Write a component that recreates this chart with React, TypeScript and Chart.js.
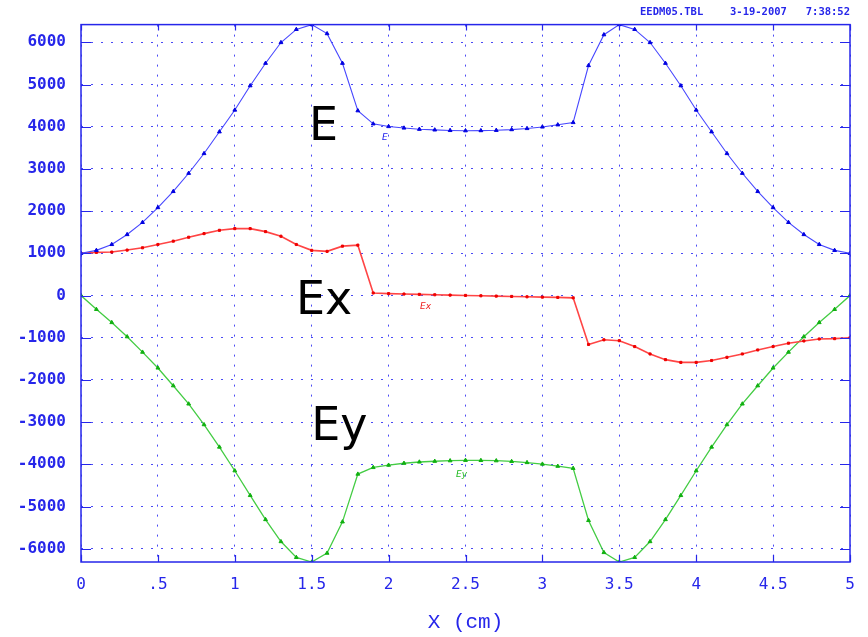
import React, { useEffect, useRef } from "react";
import { Chart, registerables } from "chart.js";

Chart.register(...registerables);

// Position along the device (cm)
const X_CM = [
  0, 0.1, 0.2, 0.3, 0.4, 0.5, 0.6, 0.7, 0.8, 0.9, 1.0,
  1.1, 1.2, 1.3, 1.4, 1.5, 1.6, 1.7, 1.8, 1.9, 2.0,
  2.1, 2.2, 2.3, 2.4, 2.5, 2.6, 2.7, 2.8, 2.9, 3.0,
  3.1, 3.2, 3.3, 3.4, 3.5, 3.6, 3.7, 3.8, 3.9, 4.0,
  4.1, 4.2, 4.3, 4.4, 4.5, 4.6, 4.7, 4.8, 4.9, 5.0,
];

// |E|
const E_VALUES = [
  1000, 1070, 1210, 1445, 1733, 2084, 2466, 2897, 3365, 3880, 4395,
  4972, 5504, 5995, 6307, 6420, 6206, 5504, 4379, 4068, 4005,
  3970, 3940, 3925, 3912, 3905, 3908, 3915, 3932, 3958, 3995,
  4045, 4100, 5450, 6180, 6420, 6307, 5995, 5504, 4972, 4395,
  3880, 3365, 2897, 2466, 2084, 1733, 1445, 1210, 1070, 1000,
];

// Ex
const EX_VALUES = [
  1000, 1022, 1030, 1077, 1131, 1209, 1288, 1381, 1467, 1545, 1585,
  1585, 1514, 1405, 1209, 1070, 1046, 1170, 1194, 60, 45,
  35, 27, 18, 10, 2, -6, -14, -22, -30, -38,
  -45, -55, -1160, -1050, -1070, -1210, -1385, -1520, -1585, -1585,
  -1540, -1465, -1385, -1290, -1210, -1130, -1077, -1030, -1022, -1000,
];

// Ey
const EY_VALUES = [
  0, -328, -640, -976, -1342, -1717, -2138, -2569, -3060, -3591, -4153,
  -4738, -5309, -5831, -6206, -6315, -6105, -5363, -4232, -4075, -4020,
  -3975, -3945, -3928, -3915, -3905, -3908, -3915, -3932, -3958, -3995,
  -4045, -4095, -5330, -6090, -6315, -6206, -5831, -5309, -4738, -4153,
  -3591, -3060, -2569, -2138, -1717, -1342, -976, -640, -328, 0,
];

const Y_MIN = -6315;
const Y_MAX = 6420;
const Y_TICKS = [-6000, -5000, -4000, -3000, -2000, -1000, 0, 1000, 2000, 3000, 4000, 5000, 6000];
const X_MIN = 0;
const X_MAX = 5;
const X_TICKS = [0, 0.5, 1, 1.5, 2, 2.5, 3, 3.5, 4, 4.5, 5];
const X_TICK_LABELS = ["0", ".5", "1", "1.5", "2", "2.5", "3", "3.5", "4", "4.5", "5"];

const HEADER = ["EEDM05.TBL", "3-19-2007", "7:38:52"];
const X_TITLE = "X (cm)";

// Big annotation labels: [text, x, y(baseline)]
const BIG_LABELS: [string, number, number][] = [
  ["E", 1.482, 3680],
  ["Ex", 1.398, -440],
  ["Ey", 1.497, -3420],
];
// Small curve labels: [text, x, y(middle), color]
const SMALL_LABELS: [string, number, number, string][] = [
  ["E", 1.957, 3750, "#2222ee"],
  ["Ex", 2.204, -270, "#ee2222"],
  ["Ey", 2.438, -4240, "#22bb22"],
];

const AXIS_COLOR = "#2626ea";
const GRID_COLOR = "#4a4af5";

export default function App() {
  const ref = useRef<HTMLCanvasElement>(null);

  useEffect(() => {
    document.body.style.margin = "0";
    const canvas = ref.current;
    if (!canvas) return;
    const pts = (ys: number[]) => X_CM.map((x, i) => ({ x, y: ys[i] }));

    const framePlugin = {
      id: "framePlugin",
      afterDraw(chart: any) {
        const { ctx, chartArea: a, scales } = chart;
        const xs = scales.x;
        const ys = scales.y;
        ctx.save();
        // frame
        ctx.strokeStyle = AXIS_COLOR;
        ctx.lineWidth = 1.5;
        ctx.strokeRect(a.left, a.top, a.right - a.left, a.bottom - a.top);
        // inner ticks
        ctx.lineWidth = 1.2;
        ctx.beginPath();
        ys.ticks.forEach((t: any) => {
          const py = Math.round(ys.getPixelForValue(t.value)) + 0.5;
          ctx.moveTo(a.left, py);
          ctx.lineTo(a.left + 10, py);
          ctx.moveTo(a.right, py);
          ctx.lineTo(a.right - 10, py);
        });
        xs.ticks.forEach((t: any) => {
          const px = Math.round(xs.getPixelForValue(t.value)) + 0.5;
          ctx.moveTo(px, a.bottom);
          ctx.lineTo(px, a.bottom - 7);
          ctx.moveTo(px, a.top);
          ctx.lineTo(px, a.top + 6);
        });
        ctx.stroke();

        // header
        ctx.fillStyle = AXIS_COLOR;
        ctx.font = "bold 10.5px 'DejaVu Sans Mono', monospace";
        ctx.textBaseline = "alphabetic";
        ctx.textAlign = "left";
        ctx.fillText(HEADER[0], 640, 15);
        ctx.fillText(HEADER[1], 730, 15);
        ctx.textAlign = "right";
        ctx.fillText(HEADER[2], a.right, 15);

        // big labels
        ctx.fillStyle = "#000000";
        ctx.font = "46px 'DejaVu Sans', sans-serif";
        ctx.textAlign = "left";
        ctx.textBaseline = "alphabetic";
        BIG_LABELS.forEach(([txt, x, y]) => {
          ctx.fillText(txt, xs.getPixelForValue(x), ys.getPixelForValue(y));
        });

        // small labels
        ctx.font = "italic 9px 'DejaVu Sans', sans-serif";
        ctx.textBaseline = "middle";
        SMALL_LABELS.forEach(([txt, x, y, c]) => {
          ctx.fillStyle = c;
          ctx.fillText(txt, xs.getPixelForValue(x), ys.getPixelForValue(y));
        });
        ctx.restore();
      },
    };

    const chart = new Chart(canvas, {
      type: "line",
      data: {
        datasets: [
          {
            label: "E",
            data: pts(E_VALUES),
            borderColor: "#4848ff",
            backgroundColor: "#0000e0",
            pointBorderColor: "#0000e0",
            borderWidth: 1.1,
            pointStyle: "triangle",
            pointRadius: 2.2,
            pointBorderWidth: 1,
            tension: 0,
          },
          {
            label: "Ex",
            data: pts(EX_VALUES),
            borderColor: "#ff4545",
            backgroundColor: "#ee0000",
            pointBorderColor: "#ee0000",
            borderWidth: 1.6,
            pointStyle: "rect",
            pointRadius: 1.5,
            pointBorderWidth: 1,
            tension: 0,
          },
          {
            label: "Ey",
            data: pts(EY_VALUES),
            borderColor: "#44cc44",
            backgroundColor: "#10b010",
            pointBorderColor: "#10b010",
            borderWidth: 1.3,
            pointStyle: "triangle",
            pointRadius: 2.2,
            pointBorderWidth: 1,
            tension: 0,
          },
        ],
      },
      options: {
        animation: false,
        responsive: false,
        maintainAspectRatio: false,
        layout: { padding: { top: 17, right: 18, left: 0, bottom: 0 } },
        plugins: {
          legend: { display: false },
          tooltip: { enabled: false },
          title: { display: false },
        },
        scales: {
          x: {
            type: "linear",
            min: X_MIN,
            max: X_MAX,
            afterFit: (s: any) => {
              s.height = 75;
            },
            afterBuildTicks: (s: any) => {
              s.ticks = X_TICKS.map((v) => ({ value: v }));
            },
            grid: {
              display: true,
              drawTicks: false,
              color: GRID_COLOR,
              lineWidth: 1,
            },
            border: { display: false, dash: [2, 8] },
            ticks: {
              padding: 13,
              color: AXIS_COLOR,
              font: { family: "'DejaVu Sans Mono', monospace", size: 16 },
              maxRotation: 0,
              autoSkip: false,
              callback: (v: any) => {
                const i = X_TICKS.indexOf(Number(v));
                return i >= 0 ? X_TICK_LABELS[i] : "";
              },
            },
            title: {
              display: true,
              text: X_TITLE,
              color: AXIS_COLOR,
              font: { family: "'Liberation Mono', monospace", size: 21 },
              padding: { top: 0, bottom: 2 },
            },
          },
          y: {
            type: "linear",
            min: Y_MIN,
            max: Y_MAX,
            afterFit: (s: any) => {
              s.width = 81;
            },
            afterBuildTicks: (s: any) => {
              s.ticks = Y_TICKS.map((v) => ({ value: v }));
            },
            grid: {
              display: true,
              drawTicks: false,
              color: GRID_COLOR,
              lineWidth: 1,
            },
            border: { display: false, dash: [2, 8] },
            ticks: {
              padding: 15,
              color: AXIS_COLOR,
              autoSkip: false,
              font: {
                family: "'DejaVu Sans Mono', monospace",
                size: 16,
                weight: "bold",
              },
              callback: (v: any) => String(v),
            },
          },
        },
      },
      plugins: [framePlugin],
    } as any);

    return () => chart.destroy();
  }, []);

  return (
    <div style={{ position: "absolute", left: 0, top: 0, width: 868, height: 637 }}>
      <canvas ref={ref} width={868} height={637} style={{ display: "block" }} />
    </div>
  );
}
